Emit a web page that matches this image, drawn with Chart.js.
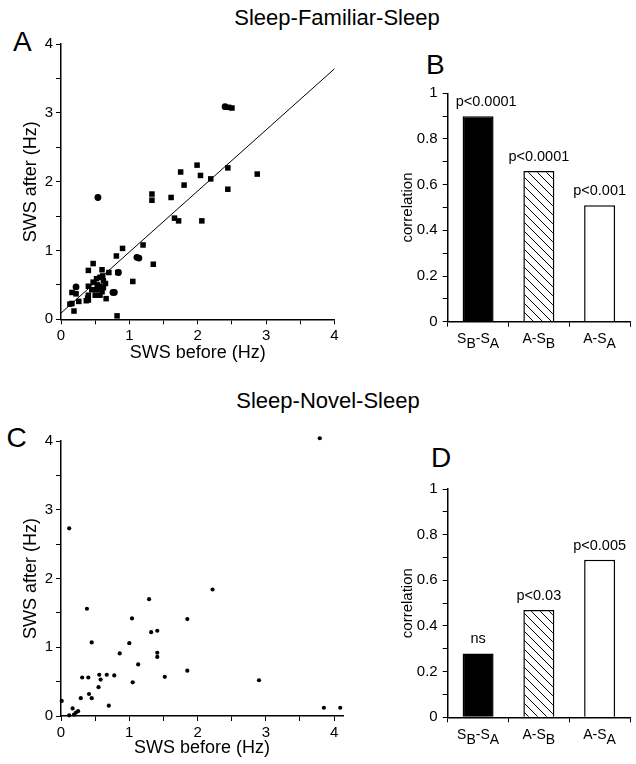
<!DOCTYPE html>
<html><head><meta charset="utf-8">
<script src="https://cdn.jsdelivr.net/npm/chart.js@4.4.1/dist/chart.umd.min.js"></script>
<style>
html,body{margin:0;padding:0;background:#fff;}
body{width:636px;height:764px;position:relative;overflow:hidden;font-family:"Liberation Sans",Arial,Helvetica,sans-serif;color:#000;}
canvas{position:absolute;}
.t{position:absolute;white-space:nowrap;line-height:1;}
</style></head><body>
<div class="t" style="font-size:22px;left:0;width:674px;text-align:center;top:7.4px">Sleep-Familiar-Sleep</div>
<div class="t" style="font-size:22px;left:0;width:656px;text-align:center;top:390.4px">Sleep-Novel-Sleep</div>
<div class="t" style="font-size:28px;left:13px;top:28.3px">A</div>
<div class="t" style="font-size:28px;left:426px;top:51.3px">B</div>
<div class="t" style="font-size:28px;left:6.5px;top:424.3px">C</div>
<div class="t" style="font-size:28px;left:431px;top:444.3px">D</div>
<canvas id="cA" width="380" height="345" style="left:0;top:30px"></canvas>
<canvas id="cB" width="256" height="300" style="left:380px;top:60px"></canvas>
<canvas id="cC" width="380" height="339" style="left:0;top:425px"></canvas>
<canvas id="cD" width="256" height="304" style="left:380px;top:460px"></canvas>
<script>
// ---------- data ----------
const familiarSquaresX = [2.50,2.45,2.44,2.44,2.87,1.99,2.04,2.19,1.75,1.80,1.61,1.33,1.33,1.66,1.72,2.06,1.20,0.90,0.81,1.35,1.05,0.47,0.40,0.60,0.70,0.83,0.82,0.13,0.16,0.19,0.26,0.16,0.22,0.37,0.39,0.40,0.40,0.47,0.52,0.57,0.62,0.65,0.57,0.52,0.50,0.57,0.62,0.66,0.45,0.60,0.53,0.40,0.61];
const familiarSquaresY = [3.07,3.08,2.20,1.89,2.11,2.24,2.09,2.04,2.14,1.95,1.77,1.82,1.73,1.47,1.43,1.43,1.08,1.03,0.92,0.80,0.55,0.81,0.71,0.72,0.68,0.68,0.05,0.22,0.23,0.12,0.26,0.39,0.37,0.27,0.31,0.35,0.48,0.54,0.59,0.61,0.56,0.52,0.48,0.43,0.35,0.35,0.46,0.30,0.43,0.40,0.50,0.28,0.63];
const familiarCirclesX = [4.34,2.40,0.54,1.11,1.14,0.22,0.76,0.78,0.84,0.55];
const familiarCirclesY = [3.47,3.09,1.77,0.90,0.89,0.47,0.39,0.39,0.68,0.45];
const fitLineX = [0, 4];
const fitLineY = [0.09, 3.64];

const novelX = [3.79,0.12,2.22,1.29,0.38,1.04,1.85,1.32,1.41,0.45,1.00,0.86,1.41,1.41,1.13,1.85,2.90,0.31,0.40,0.56,0.58,0.67,0.78,0.55,1.05,1.52,0.41,0.45,0.29,0.70,0.01,0.17,0.12,0.19,0.22,0.25,3.85,4.09];
const novelY = [4.04,2.73,1.84,1.70,1.56,1.42,1.41,1.22,1.24,1.07,1.06,0.91,0.92,0.86,0.75,0.66,0.52,0.56,0.56,0.60,0.53,0.60,0.59,0.42,0.49,0.57,0.32,0.26,0.26,0.15,0.22,0.11,0.01,0.02,0.05,0.07,0.12,0.12];

const corrCategories = ['S_B-S_A','A-S_B','A-S_A'];
const corrFamiliar = [0.90, 0.66, 0.51];
const pFamiliar = ['p<0.0001','p<0.0001','p<0.001'];
const corrNovel = [0.28, 0.47, 0.69];
const pNovel = ['ns','p<0.03','p<0.005'];

const scatterTickLabels = ['0','1','2','3','4'];
const corrTickLabels = ['0','0.2','0.4','0.6','0.8','1'];

// ---------- helpers ----------
const FONT = '"Liberation Sans", Arial, Helvetica, sans-serif';
Chart.defaults.font.family = FONT;
Chart.defaults.color = '#000';

const pts = (xs, ys) => xs.map((x, i) => ({x, y: ys[i]}));
const labelFrom = arr => v => {
  const hit = arr.find(s => Math.abs(parseFloat(s) - v) < 1e-6);
  return hit === undefined ? '' : hit;
};

function scatterScales(opts) {
  const common = {
    type: 'linear', min: 0,
    ticks: {stepSize: 0.5, autoSkip: false, includeBounds: false, maxRotation: 0,
            callback: labelFrom(scatterTickLabels), font: {size: 15}, color: '#000'},
    grid: {drawOnChartArea: false, drawTicks: true, tickLength: 5, color: '#000', lineWidth: 1},
    border: {display: true, color: '#000', width: 1.5}
  };
  return {
    x: Object.assign({}, common, {
      max: opts.xmax,
      ticks: Object.assign({}, common.ticks, {padding: 3}),
      title: {display: true, text: 'SWS before (Hz)', font: {size: 18}, color: '#000', padding: {top: 0, bottom: opts.xtitlePad}},
      afterFit: s => { s.height = opts.xh; }
    }),
    y: Object.assign({}, common, {
      max: 4,
      ticks: Object.assign({}, common.ticks, {padding: 3}),
      title: {display: true, text: 'SWS after (Hz)', font: {size: 18}, color: '#000', padding: {top: opts.ytitlePad, bottom: 0}},
      afterFit: s => { s.width = 61; }
    })
  };
}

function drawSubText(ctx, text, cx, baseY, size, drop) {
  const segs = [];
  for (let i = 0; i < text.length; i++) {
    if (text[i] === '_') { segs.push({t: text[i + 1], s: true}); i++; }
    else segs.push({t: text[i], s: false});
  }
  ctx.font = size + 'px ' + FONT;
  const w = segs.reduce((a, s) => a + ctx.measureText(s.t).width, 0);
  let x = cx - w / 2;
  ctx.textAlign = 'left'; ctx.textBaseline = 'alphabetic';
  segs.forEach(s => { ctx.fillText(s.t, x, baseY + (s.s ? drop : 0)); x += ctx.measureText(s.t).width; });
}

const barLabelPlugin = pvals => ({
  id: 'barLabels',
  afterDraw(chart) {
    const ctx = chart.ctx, xs = chart.scales.x;
    ctx.save();
    ctx.fillStyle = '#000';
    chart.data.labels.forEach((lab, i) => drawSubText(ctx, lab, xs.getPixelForValue(i), xs.top + 21.7, 14, 5));
    const meta = chart.getDatasetMeta(0);
    ctx.font = '14.5px ' + FONT; ctx.textAlign = 'center'; ctx.textBaseline = 'alphabetic';
    meta.data.forEach((el, i) => {
      const w = ctx.measureText(pvals[i]).width;
      const x = Math.max(el.x, chart.chartArea.left + w / 2 + 8);
      ctx.fillText(pvals[i], x, el.y - 10);
    });
    ctx.restore();
  }
});

function hatch(ctx) {
  const n = 9, c = document.createElement('canvas');
  c.width = c.height = n;
  const g = c.getContext('2d');
  g.fillStyle = '#fff'; g.fillRect(0, 0, n, n);
  g.strokeStyle = '#000'; g.lineWidth = 1;
  g.beginPath();
  g.moveTo(-1, -1); g.lineTo(n + 1, n + 1);
  g.moveTo(-1, n - 1); g.lineTo(1, n + 1);
  g.moveTo(n - 1, -1); g.lineTo(n + 1, 1);
  g.stroke();
  return ctx.createPattern(c, 'repeat');
}

function barChart(id, values, pvals, padTop, xh) {
  const cv = document.getElementById(id);
  const ctx = cv.getContext('2d');
  return new Chart(ctx, {
    type: 'bar',
    data: {labels: corrCategories, datasets: [{
      data: values,
      backgroundColor: ['#000', hatch(ctx), '#fff'],
      borderColor: '#000', borderWidth: 1.5,
      barPercentage: 0.51, categoryPercentage: 1
    }]},
    options: {
      responsive: false, animation: false,
      layout: {padding: {top: padTop, right: 6, left: 0, bottom: 0}},
      plugins: {legend: {display: false}, tooltip: {enabled: false}},
      scales: {
        x: {offset: true,
            grid: {offset: true, drawOnChartArea: false, drawTicks: true, tickLength: 5, color: '#000'},
            ticks: {display: false},
            border: {display: true, color: '#000', width: 1.5},
            afterFit: s => { s.height = xh; }},
        y: {min: 0, max: 1,
            ticks: {stepSize: 0.1, autoSkip: false, callback: labelFrom(corrTickLabels), padding: 5, font: {size: 15}, color: '#000'},
            grid: {drawOnChartArea: false, drawTicks: true, tickLength: 5, color: '#000'},
            border: {display: true, color: '#000', width: 1.5},
            title: {display: true, text: 'correlation', font: {size: 15}, color: '#000', padding: {top: 19, bottom: 0}},
            afterFit: s => { s.width = 67.7; }}
      }
    },
    plugins: [barLabelPlugin(pvals)]
  });
}

// ---------- panel A ----------
new Chart(document.getElementById('cA'), {
  type: 'scatter',
  data: {datasets: [
    {data: pts(fitLineX, fitLineY), showLine: true, borderColor: '#000', borderWidth: 1, pointRadius: 0, clip: false},
    {data: pts(familiarSquaresX, familiarSquaresY), pointStyle: 'rect', pointRadius: 3.9, backgroundColor: '#000', borderWidth: 0, clip: false},
    {data: pts(familiarCirclesX, familiarCirclesY), pointStyle: 'circle', pointRadius: 3.4, backgroundColor: '#000', borderWidth: 0, clip: false}
  ]},
  options: {
    responsive: false, animation: false,
    layout: {padding: {top: 14, right: 45.5, left: 0, bottom: 0}},
    plugins: {legend: {display: false}, tooltip: {enabled: false}},
    scales: scatterScales({xmax: 4, xh: 55.7, xtitlePad: 11.2, ytitlePad: 20.7})
  }
});

// ---------- panel C ----------
new Chart(document.getElementById('cC'), {
  type: 'scatter',
  data: {datasets: [
    {data: pts(novelX, novelY), pointStyle: 'circle', pointRadius: 2.1, backgroundColor: '#000', borderWidth: 0, clip: false}
  ]},
  options: {
    responsive: false, animation: false,
    layout: {padding: {top: 16, right: 37, left: 0, bottom: 0}},
    plugins: {legend: {display: false}, tooltip: {enabled: false}},
    scales: scatterScales({xmax: 4.13, xh: 48, xtitlePad: 5.5, ytitlePad: 20.7})
  }
});

// ---------- panels B, D ----------
barChart('cB', corrFamiliar, pFamiliar, 33.3, 38.3);
barChart('cD', corrNovel, pNovel, 29, 46.7);
</script>
</body></html>
